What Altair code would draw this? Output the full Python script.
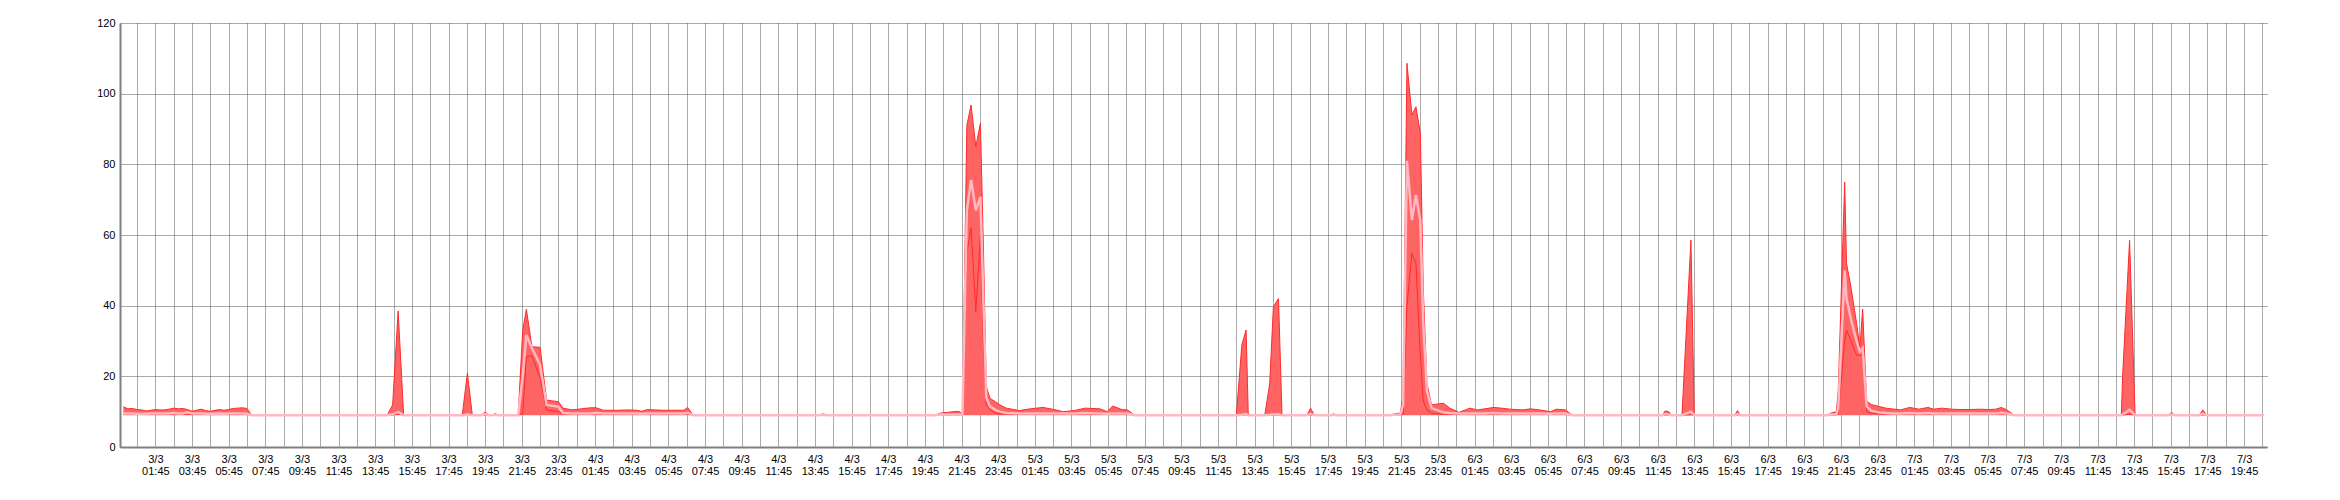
import json
import altair as alt
import pandas as pd

# ---- data (hours since 3/3 00:00) ----
T = ([0.0, 0.25, 0.5, 0.75, 1.0, 1.25, 1.5, 1.75, 2.0, 2.25, 2.5, 2.75, 3.0, 3.25, 3.5, 3.75, 4.0, 4.25, 4.5, 4.75, 5.0, 5.25, 5.5, 5.75, 6.0, 6.25, 6.5, 6.75, 7.0]
     + [14.4, 14.7, 15.0, 15.3, 18.5, 18.78, 19.05, 19.55, 19.75, 19.95, 20.15, 20.3, 20.45]
     + [21.55, 21.8, 22.0, 22.3, 22.75, 23.1, 23.75, 24.0, 24.5, 25.0, 25.5, 25.8, 26.2, 27.0, 27.5, 28.0, 28.3, 28.6, 29.0, 29.5, 30.0, 30.6, 30.8, 31.1]
     + [38.0, 38.2, 38.4]
     + [44.3, 44.6, 45.0, 45.3, 45.6, 45.8, 46.04, 46.27, 46.53, 46.78, 46.95, 47.1, 47.3, 47.6, 47.85, 48.2, 48.9, 49.5, 50.2, 50.8, 51.3, 51.9, 52.5, 53.3, 53.7, 54.0, 54.5, 54.8, 55.2]
     + [60.75, 61.05, 61.28, 61.4, 62.3, 62.57, 62.77, 63.05, 63.24, 64.6, 64.8, 65.0, 65.9, 66.05, 66.2]
     + [69.1, 69.4, 69.7, 69.85, 70.06, 70.33, 70.55, 70.79, 70.95, 71.15, 71.4, 72.05, 72.4, 72.9, 73.5, 73.9, 74.3, 74.8, 75.2, 75.7, 76.0, 76.4, 76.8, 77.3, 77.9, 78.2, 78.7, 79.1]
     + [84.0, 84.15, 84.35, 84.5, 85.07, 85.56, 85.74, 87.95, 88.1, 88.25]
     + [93.0, 93.2, 93.5, 93.6, 93.95, 94.05, 94.3, 94.6, 94.78, 94.93, 95.15, 95.4, 95.8, 96.2, 96.5, 97.0, 97.5, 98.0, 98.5, 98.8, 99.26, 99.8, 100.3, 100.8, 101.3, 101.8, 102.2, 102.5, 102.8, 103.2]
     + [109.05, 109.12, 109.5, 109.8, 111.6, 111.8, 111.95, 113.3, 113.5, 113.7, 116.8])

MN = ([9.2] * 14 + [9.3] + [9.2] * 13 + [9]
      + [9, 9.1, 9.3, 9, 9, 9, 9, 9, 9, 9, 9, 9, 9]
      + [9, 9.5, 25.6, 25.8, 19.5, 10.5, 10.0] + [9.3] * 15 + [9.4, 9]
      + [9, 9, 9]
      + [9, 9.1, 9.1, 9.1, 9.1, 9.0, 55.0, 62.0, 38.3, 60.0, 28.0, 12.0, 10.5, 9.6, 9.4] + [9.3] * 7 + [9.4] + [9.3] * 5 + [9]
      + [9, 9, 9.1, 9, 9, 9, 9, 9.1, 9, 9, 9, 9, 9, 9, 9]
      + [9, 9, 9.1, 9.2, 40.0, 54.8, 52.0, 26.0, 13.0, 10.5, 9.5] + [9.3] * 16 + [9]
      + [9, 9, 9, 9, 9, 9.1, 9, 9, 9, 9]
      + [9, 9, 9.1, 9.2, 30.0, 33.0, 30.0, 26.0, 26.0, 26.0, 10.0, 9.6, 9.4] + [9.3] * 14 + [9.4, 9.3, 9]
      + [9, 9, 9.3, 9, 9, 9, 9, 9, 9, 9, 9])

AV = ([9.5, 9.5, 9.5, 9.4, 9.4, 9.4, 9.5, 9.5, 9.5, 9.5, 9.5, 9.6, 9.5, 9.5, 9.8, 9.5, 9.5, 9.5, 9.4, 9.4, 9.4, 9.5, 9.4, 9.5, 9.5, 9.5, 9.5, 9.4, 9]
      + [9, 9.3, 9.9, 9, 9, 9.2, 9, 9, 9.3, 9, 9, 9.1, 9]
      + [9, 20.0, 31.7, 28.0, 23.2, 11.9, 11.4, 9.6, 9.5, 9.5, 9.5, 9.6, 9.5, 9.5, 9.5, 9.5, 9.4, 9.5, 9.5, 9.5, 9.5, 9.5, 9.7, 9]
      + [9, 9.1, 9]
      + [9, 9.2, 9.2, 9.2, 9.2, 9.1, 67.0, 75.6, 67.0, 70.8, 40.0, 14.0, 11.5, 10.5, 10.0,
         9.6, 9.5, 9.5, 9.5, 9.5, 9.5, 9.5, 9.6, 9.5, 9.4, 9.5, 9.5, 9.5, 9]
      + [9, 9.1, 9.3, 9, 9, 9.1, 9.2, 9.3, 9, 9, 9.3, 9, 9, 9.1, 9]
      + [9, 9.1, 9.2, 12.0, 81.0, 64.2, 71.3, 64.0, 35.0, 16.0, 11.0,
         9.8, 9.6, 9.5, 9.5, 9.5, 9.5, 9.6, 9.5, 9.5, 9.5, 9.5, 9.5, 9.5, 9.4, 9.5, 9.5, 9]
      + [9, 9.3, 9.2, 9, 9, 10.0, 9, 9, 9.3, 9]
      + [9, 9.2, 9.3, 11.0, 50.0, 42.0, 36.0, 30.0, 27.0, 28.0, 11.5, 10.3, 9.8,
         9.6, 9.5, 9.5, 9.6, 9.5, 9.6, 9.5, 9.5, 9.5, 9.5, 9.5, 9.5, 9.5, 9.5, 9.7, 9.5, 9]
      + [9, 9.2, 10.5, 9, 9, 9.2, 9, 9, 9.4, 9, 9])

MX = ([11.4, 10.8, 10.9, 10.6, 10.5, 10.2, 10.4, 10.6, 10.5, 10.5, 10.7, 11.0, 10.8, 10.9, 10.6, 10.1, 10.4, 10.7, 10.3, 10.1, 10.4, 10.6, 10.4, 10.6, 10.9, 11.0, 11.1, 10.9, 9]
      + [9, 11.9, 38.5, 9, 9, 20.9, 9, 9, 9.9, 9, 9, 9.5, 9]
      + [9, 33.0, 39.0, 28.4, 28.2, 13.3, 12.8, 11.0, 10.5, 10.8, 11.1, 11.1, 10.4, 10.4, 10.5, 10.4, 10.1, 10.6, 10.5, 10.4, 10.4, 10.4, 11.2, 9]
      + [9, 9.4, 9]
      + [9, 9.6, 9.8, 10.0, 10.1, 9.3, 91.0, 96.8, 85.0, 91.6, 55.0, 17.1, 13.8, 12.8, 11.9,
         11.0, 10.3, 10.8, 11.2, 10.6, 10.0, 10.3, 11.0, 10.8, 10.0, 11.6, 10.6, 10.5, 9]
      + [9, 29.0, 33.1, 9, 9, 18.0, 39.7, 42.0, 9, 9, 11.0, 9, 9, 9.4, 9]
      + [9, 9.4, 9.6, 15.0, 108.6, 94.0, 96.3, 88.8, 45.0, 18.0, 11.9,
         12.4, 11.0, 9.8, 11.0, 10.5, 10.8, 11.2, 11.0, 10.7, 10.6, 10.5, 10.8, 10.5, 10.0, 10.7, 10.5, 9]
      + [9, 10.2, 10.0, 9, 9, 58.6, 9, 9, 10.3, 9]
      + [9, 9.6, 10.0, 16.0, 75.0, 52.0, 45.0, 35.0, 28.0, 39.0, 13.0, 12.0, 11.5,
         11.0, 10.8, 10.5, 11.2, 10.7, 11.2, 10.7, 11.0, 10.7, 10.6, 10.6, 10.7, 10.6, 10.7, 11.2, 10.5, 9]
      + [9, 20.0, 58.5, 9, 9, 9.8, 9, 9, 10.5, 9, 9])

BASE = 9.0

# ---- axis ticks / labels ----
DAYS = ["3/3", "4/3", "5/3", "6/3", "7/3"]
TIMES = ["01:45", "03:45", "05:45", "07:45", "09:45", "11:45",
         "13:45", "15:45", "17:45", "19:45", "21:45", "23:45"]
TICK_LABELS = [[d, t] for d in DAYS for t in TIMES][:58]
GRID_HOURS = [h + 0.75 for h in range(0, 117)]
Y_TICKS = [0, 20, 40, 60, 80, 100, 120]

df = pd.DataFrame({"t": T, "mn": MN, "av": AV, "mx": MX})
df["base"] = BASE

label_expr = ("(round(datum.value * 4) % 8 == 7) ? " + json.dumps(TICK_LABELS)
              + "[floor(datum.value / 2)] : ''")

FONT = "Liberation Sans"
grid_color = "#555555"

xaxis = alt.Axis(values=GRID_HOURS, labelExpr=label_expr, grid=True,
                 gridColor=grid_color, gridDash=[1, 1], gridWidth=1,
                 ticks=False, domainColor="#808080", domainWidth=2,
                 labelFont=FONT, labelFontSize=11, labelColor="#000000",
                 labelPadding=6, labelLineHeight=12.5, labelOverlap=False,
                 labelFlush=False, labelBound=False, title=None)
yaxis = alt.Axis(values=Y_TICKS, grid=True, gridColor=grid_color,
                 gridDash=[1, 1], gridWidth=1, ticks=False,
                 domainColor="#808080", domainWidth=2, labelFont=FONT,
                 labelFontSize=11, labelColor="#000000", labelPadding=5,
                 title=None)

xs = alt.Scale(domain=[-0.18, 117.0], nice=False, zero=False)
ys = alt.Scale(domain=[0, 120], nice=False)

base = alt.Chart(df).encode(x=alt.X("t:Q", scale=xs, axis=xaxis))

area = base.mark_area(color="#FF6464", opacity=1, interpolate="linear").encode(
    y=alt.Y("mx:Q", scale=ys, axis=yaxis), y2="base:Q")
mx_line = base.mark_line(color="#FF2A2A", strokeWidth=1).encode(
    y=alt.Y("mx:Q", scale=ys, axis=yaxis))
mn_line = base.mark_line(color="#FF2A2A", strokeWidth=1).encode(
    y=alt.Y("mn:Q", scale=ys, axis=yaxis))
av_line = base.mark_line(color="#FFB8C2", strokeWidth=2.5).encode(
    y=alt.Y("av:Q", scale=ys, axis=yaxis))

chart = alt.layer(area, mn_line, mx_line, av_line).properties(
    width=2147, height=424, autosize="none",
    padding={"left": 112, "top": 15, "right": 60, "bottom": 40},
    background="white",
).configure_view(strokeWidth=0)

chart.save("out.html", embed_options={"renderer": "svg", "actions": False})
